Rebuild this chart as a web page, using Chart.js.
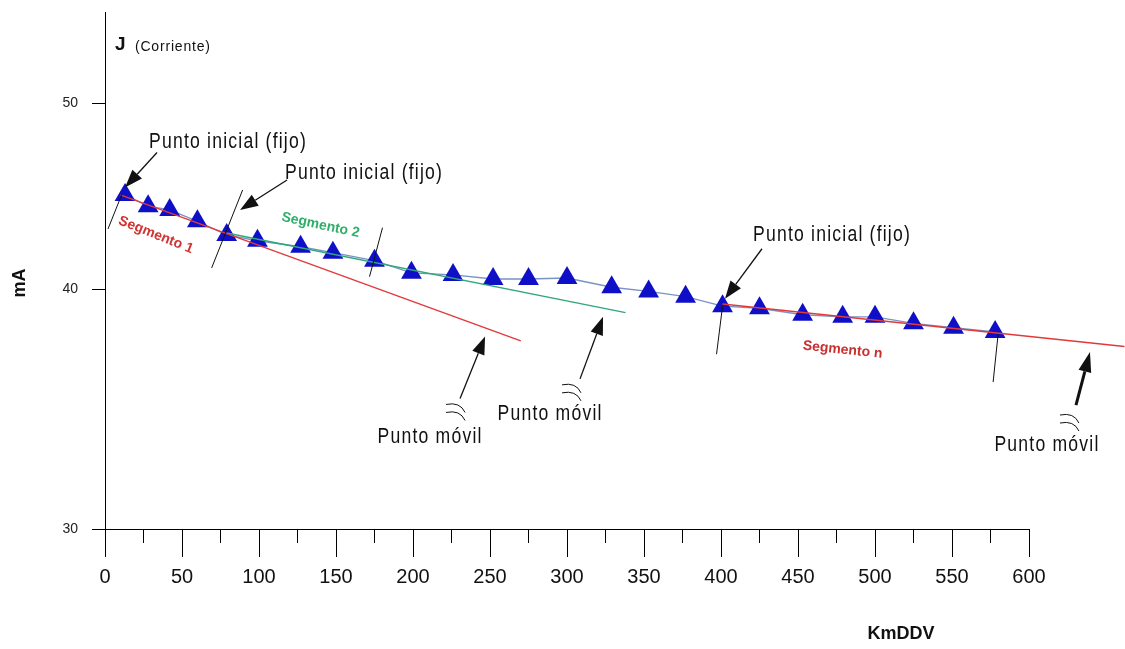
<!DOCTYPE html>
<html>
<head>
<meta charset="utf-8">
<script src="https://cdn.jsdelivr.net/npm/chart.js@4.4.1/dist/chart.umd.min.js"></script>
<style>
  html, body { margin: 0; padding: 0; background: #fff; }
  #wrap { width: 1125px; height: 649px; }
</style>
</head>
<body>
<div id="wrap"><canvas id="chart" width="1125" height="649"></canvas></div>
<script>
// measured points (KmDDV / mA)
const xKm = [13, 28, 42, 60, 79, 99, 127, 148, 175, 199, 226, 252, 275, 300, 329, 353, 377, 401, 425, 453, 479, 500, 525, 551, 578];
const corrienteMA = [44.8, 44.2, 44.0, 43.4, 42.7, 42.4, 42.1, 41.8, 41.4, 40.8, 40.7, 40.5, 40.5, 40.55, 40.1, 39.9, 39.65, 39.2, 39.1, 38.8, 38.7, 38.7, 38.4, 38.2, 38.0];

// fitted segments
const seg1X = [10, 270];
const seg1Y = [44.8, 37.6];
const seg2X = [79, 338];
const seg2Y = [42.8, 38.9];
const segNX = [401, 662];
const segNY = [39.3, 37.35];

// axis ticks
const xTicks = [0, 50, 100, 150, 200, 250, 300, 350, 400, 450, 500, 550, 600];
const xMinorTicks = [0, 25, 50, 75, 100, 125, 150, 175, 200, 225, 250, 275, 300, 325, 350, 375, 400, 425, 450, 475, 500, 525, 550, 575, 600];
const yTicks = [30, 40, 50];

const toPoints = (xs, ys) => xs.map((x, i) => ({ x: x, y: ys[i] }));

const SANS = "'Liberation Sans', Arial, sans-serif";

// callouts: tip in data units, other parts as pixel offsets from the tip
const callouts = [
    { text: 'Punto inicial (fijo)', tip: [13, 45.2], tail: [32, -35], label: [103, -46] },
    { text: 'Punto inicial (fijo)', tip: [87.7, 44.0], tail: [47, -30], label: [124, -37] },
    { text: 'Punto inicial (fijo)', tip: [402.6, 39.55], tail: [37, -50], label: [107, -64] },
    { text: 'Punto móvil', tip: [246.8, 37.8], tail: [-25, 62], label: [-55, 100], wave: [-29, 73] },
    { text: 'Punto móvil', tip: [323.4, 38.7], tail: [-23, 62], label: [-53, 97], wave: [-31, 73] },
    { text: 'Punto móvil', tip: [639.6, 37.1], tail: [-14, 53], label: [-43, 93], wave: [-20, 68], heavy: true }
];

// short marks at segment limits: index of measured point, two pixel offsets
const limits = [
    { i: 0, a: [-17, 34], b: [-3, -1] },
    { i: 4, a: [-15, 33], b: [16, -45] },
    { i: 8, a: [-5, 16], b: [8, -33] },
    { i: 17, a: [-6, 48], b: [0, 0] },
    { i: 24, a: [-2, 50], b: [3, 2] }
];

const segLabels = [
    { text: 'Segmento 1', at: [33, 42.7], angle: 22, color: '#d03434' },
    { text: 'Segmento 2', at: [140, 43.2], angle: 12, color: '#2fae6a' },
    { text: 'Segmento n', at: [479, 37.2], angle: 6, color: '#c83030' }
];

function arrow(ctx, x1, y1, x2, y2, lw, headLen, headW) {
    const ang = Math.atan2(y2 - y1, x2 - x1);
    const bx = x2 - Math.cos(ang) * headLen;
    const by = y2 - Math.sin(ang) * headLen;
    ctx.lineWidth = lw;
    ctx.beginPath();
    ctx.moveTo(x1, y1);
    ctx.lineTo(bx, by);
    ctx.stroke();
    ctx.beginPath();
    ctx.moveTo(x2, y2);
    ctx.lineTo(bx + Math.sin(ang) * headW / 2, by - Math.cos(ang) * headW / 2);
    ctx.lineTo(bx - Math.sin(ang) * headW / 2, by + Math.cos(ang) * headW / 2);
    ctx.closePath();
    ctx.fill();
}

// narrow, spaced text like the original plot software
function narrowText(ctx, text, x, y) {
    ctx.save();
    ctx.translate(x, y);
    ctx.scale(0.8, 1);
    ctx.font = '22px ' + SANS;
    ctx.letterSpacing = '1.5px';
    ctx.fillText(text, 0, 0);
    ctx.restore();
}

const notes = {
    id: 'notes',
    afterDraw(chart) {
        const ctx = chart.ctx;
        const xs = chart.scales.x, ys = chart.scales.y;
        ctx.save();

        // limit marks
        ctx.strokeStyle = '#111';
        ctx.lineWidth = 1;
        limits.forEach(m => {
            const px = xs.getPixelForValue(xKm[m.i]);
            const py = ys.getPixelForValue(corrienteMA[m.i]);
            ctx.beginPath();
            ctx.moveTo(px + m.a[0], py + m.a[1]);
            ctx.lineTo(px + m.b[0], py + m.b[1]);
            ctx.stroke();
        });

        // callouts
        ctx.fillStyle = '#111';
        ctx.strokeStyle = '#111';
        ctx.textAlign = 'center';
        ctx.textBaseline = 'middle';
        callouts.forEach(c => {
            const tx = xs.getPixelForValue(c.tip[0]);
            const ty = ys.getPixelForValue(c.tip[1]);
            arrow(ctx, tx + c.tail[0], ty + c.tail[1], tx, ty, c.heavy ? 3 : 1.3, c.heavy ? 20 : 18, 13);
            if (c.wave) {
                const cx = tx + c.wave[0], cy = ty + c.wave[1];
                ctx.lineWidth = 1;
                for (let k = 0; k < 2; k++) {
                    ctx.beginPath();
                    ctx.moveTo(cx - 10, cy - 5 + k * 8);
                    ctx.quadraticCurveTo(cx + 4, cy - 8 + k * 8, cx + 9, cy + 3 + k * 8);
                    ctx.stroke();
                }
            }
            narrowText(ctx, c.text, tx + c.label[0], ty + c.label[1]);
        });

        // segment names
        ctx.font = 'bold 14px ' + SANS;
        segLabels.forEach(s => {
            const px = xs.getPixelForValue(s.at[0]);
            const py = ys.getPixelForValue(s.at[1]);
            ctx.save();
            ctx.translate(px, py);
            ctx.rotate(s.angle * Math.PI / 180);
            ctx.fillStyle = s.color;
            ctx.fillText(s.text, 0, 0);
            ctx.restore();
        });

        // axis titles
        ctx.fillStyle = '#111';
        ctx.textAlign = 'left';
        ctx.font = 'bold 19px ' + SANS;
        ctx.fillText('J', 115, 45);
        ctx.font = '14px ' + SANS;
        ctx.letterSpacing = '0.8px';
        ctx.fillText('(Corriente)', 135, 47);
        ctx.letterSpacing = '0px';

        ctx.textAlign = 'center';
        ctx.font = 'bold 18px ' + SANS;
        ctx.fillText('KmDDV', 901, 634);

        ctx.save();
        ctx.translate(20, 283);
        ctx.rotate(-Math.PI / 2);
        ctx.fillText('mA', 0, 0);
        ctx.restore();

        ctx.restore();
    }
};

new Chart(document.getElementById('chart'), {
    type: 'line',
    data: {
        datasets: [
            {
                label: 'Segmento 1',
                data: toPoints(seg1X, seg1Y),
                borderColor: '#e23a3a',
                borderWidth: 1.4,
                pointRadius: 0,
                order: 0
            },
            {
                label: 'Segmento 2',
                data: toPoints(seg2X, seg2Y),
                borderColor: '#2fa877',
                borderWidth: 1.4,
                pointRadius: 0,
                order: 0
            },
            {
                label: 'Segmento n',
                data: toPoints(segNX, segNY),
                borderColor: '#e23a3a',
                borderWidth: 1.4,
                pointRadius: 0,
                clip: false,
                order: 0
            },
            {
                label: 'J',
                data: toPoints(xKm, corrienteMA),
                borderColor: '#7893c6',
                borderWidth: 1.4,
                pointStyle: 'triangle',
                pointRadius: 12,
                pointBorderWidth: 0,
                pointBackgroundColor: '#0f0fc8',
                pointBorderColor: '#0f0fc8',
                order: 1
            }
        ]
    },
    options: {
        responsive: false,
        animation: false,
        layout: { padding: { top: 8, right: 96, left: 0, bottom: 0 } },
        plugins: { legend: { display: false }, tooltip: { enabled: false } },
        scales: {
            x: {
                type: 'linear',
                min: 0,
                max: 600,
                afterBuildTicks: axis => { axis.ticks = xTicks.map(v => ({ value: v })); },
                afterFit: s => { s.height = 120; },
                grid: { drawOnChartArea: false, tickLength: 28, tickColor: '#000', tickWidth: 1 },
                border: { color: '#000', width: 1 },
                ticks: {
                    color: '#111',
                    padding: 8,
                    maxRotation: 0,
                    autoSkip: false,
                    font: { family: SANS, size: 20 },
                    callback: v => String(v)
                }
            },
            x2: {
                type: 'linear',
                axis: 'x',
                min: 0,
                max: 600,
                position: { y: 30 },
                afterBuildTicks: axis => { axis.ticks = xMinorTicks.map(v => ({ value: v })); },
                grid: { drawOnChartArea: false, tickLength: 14, tickColor: '#000', tickWidth: 1 },
                border: { display: false },
                ticks: { display: false }
            },
            y: {
                type: 'logarithmic',
                min: 30,
                max: 55.8,
                afterBuildTicks: axis => { axis.ticks = yTicks.map(v => ({ value: v })); },
                afterFit: s => { s.width = 105; s.paddingTop = 0; s.paddingBottom = 0; },
                grid: { drawOnChartArea: false, tickLength: 13, tickColor: '#000', tickWidth: 1 },
                border: { color: '#000', width: 1 },
                ticks: {
                    color: '#222',
                    padding: 14,
                    font: { family: SANS, size: 14 },
                    callback: v => String(v)
                }
            }
        }
    },
    plugins: [notes]
});
</script>
</body>
</html>
